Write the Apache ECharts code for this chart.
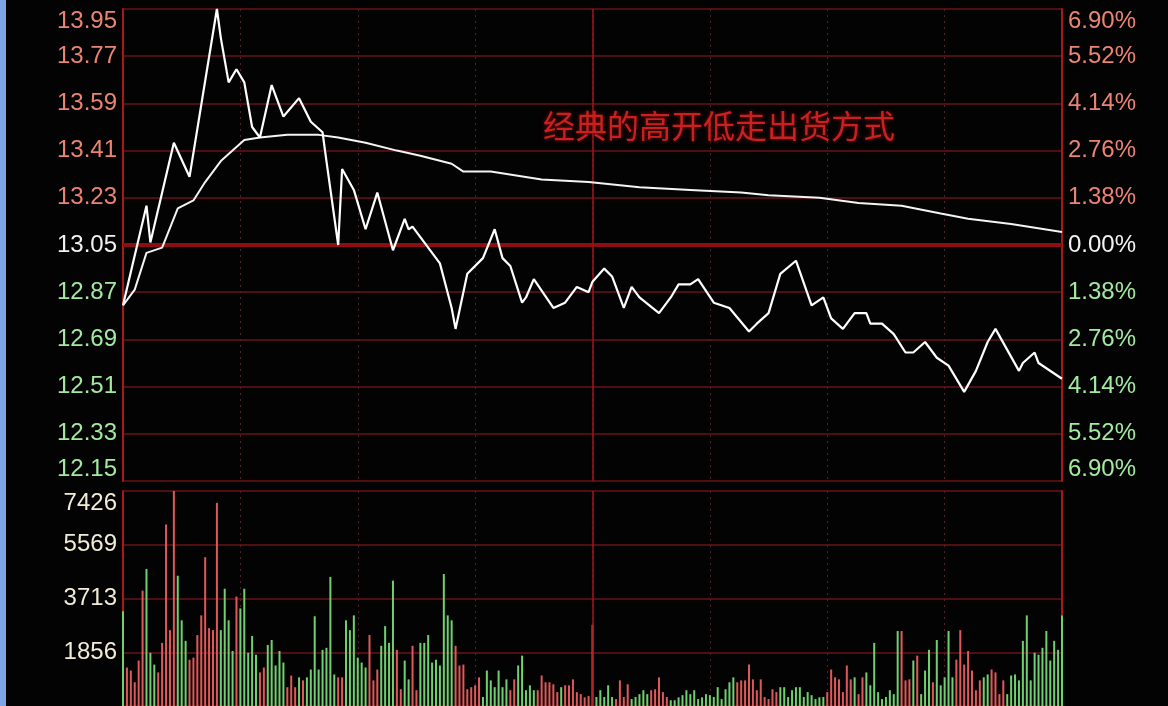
<!DOCTYPE html>
<html><head><meta charset="utf-8">
<script src="https://cdn.jsdelivr.net/npm/echarts/dist/echarts.min.js"></script>
<style>
html,body{margin:0;padding:0;background:#000;}
#strip{position:absolute;left:0;top:0;width:6px;height:706px;background:#7fa6e4;z-index:2}
#c{width:1168px;height:706px;}
</style></head>
<body><div id="strip"></div><div id="c"></div>
<script>
// ---- data ----
const chartTitle = '经典的高开低走出货方式';
const preClose = 13.05;
const priceMin = 12.15, priceMax = 13.95;
const pctMax = 6.90, pctStep = 1.38;
// tick labels, bottom to top
const priceTicks = ['12.15','12.33','12.51','12.69','12.87','13.05','13.23','13.41','13.59','13.77','13.95'];
const pctTicks = ['6.90%','5.52%','4.14%','2.76%','1.38%','0.00%','1.38%','2.76%','4.14%','5.52%','6.90%'];
const volTicks = ['', '1856', '3713', '5569', '7426'];
const volMax = 7426;
// price line vertices: minute index (0..240) and price
const priceT = [0,6,7,13,17,24,25,27,29,31,33,35,38,41,45,48,51,52,55,56,59,62,65,69,72,73,74,77,81,84,85,88,92,95,97,99,102,103,105,110,113,116,119,120,123,125,128,130,132,137,140,142,145,147,151,155,160,162,165,168,172,176,179,181,184,187,190,191,194,197,200,202,205,208,211,215,218,221,223,226,229,230,233,234,238,240];
const priceV = [12.82,13.20,13.06,13.44,13.31,13.95,13.84,13.67,13.72,13.67,13.50,13.46,13.66,13.54,13.61,13.52,13.48,13.37,13.05,13.34,13.26,13.11,13.25,13.03,13.15,13.11,13.12,13.06,12.98,12.81,12.73,12.94,13.00,13.11,13.00,12.97,12.83,12.85,12.92,12.81,12.83,12.89,12.87,12.91,12.96,12.93,12.81,12.89,12.85,12.79,12.85,12.90,12.90,12.92,12.83,12.81,12.72,12.75,12.79,12.94,12.99,12.82,12.85,12.77,12.73,12.79,12.79,12.75,12.75,12.71,12.64,12.64,12.68,12.62,12.59,12.49,12.57,12.68,12.73,12.65,12.57,12.60,12.64,12.60,12.56,12.54];
// average price line
const avgT = [0,3,6,10,14,18,21,25,31,35,42,50,55,62,70,76,84,87,94,107,119,132,145,158,165,178,188,199,209,216,227,240];
const avgV = [12.82,12.88,13.02,13.04,13.19,13.22,13.29,13.37,13.45,13.46,13.47,13.47,13.46,13.44,13.41,13.39,13.36,13.33,13.33,13.30,13.29,13.27,13.26,13.25,13.24,13.23,13.21,13.20,13.17,13.15,13.13,13.10];
// per-minute volume (241 bars) and direction (r = up, g = down)
const volumes = [
3270,1330,1225,820,1570,3985,4735,1840,1430,1160,2180,6270,2620,7426,4500,2960,2250,1600,1670,2450,
3130,5140,2690,2620,7016,2620,4050,2960,1900,3780,3370,4050,1840,2420,1770,1160,1330,2110,2280,1400,
1900,1500,650,1050,650,
990,885,990,1260,3100,1260,1940,2010,4460,1090,990,990,2960,2620,3130,1670,1500,1330,2450,885,
1260,2080,2760,2180,4330,1940,580,1570,920,2080,545,2180,2180,2450,1500,1600,1400,4560,3130,2960,
2080,1400,1430,580,650,715,990,310,1225,885,650,1225,650,920,545,920,1400,1740,545,715,
545,545,1055,820,820,750,480,650,715,715,920,480,410,300,350,
2800,310,545,310,715,310,240,885,310,750,240,310,410,545,410,
545,580,990,480,310,200,200,300,375,545,410,545,240,300,410,375,310,650,240,580,
820,990,820,885,885,1430,920,545,920,310,240,580,480,650,650,310,545,650,650,310,
480,375,240,300,310,480,1260,990,920,480,1400,920,990,410,990,1160,715,2180,480,240,
310,545,410,2590,
2590,885,920,1570,1740,410,1225,1940,820,2280,715,990,2590,990,1600,2620,1430,1900,1225,545,
885,990,1090,1260,1160,410,885,410,1055,1090,885,2250,3130,885,1840,1770,2010,2590,1570,2250,
1940,3130];
const volDir = ('grrrrrgggrrrrrgggrrrrrrrrggggrggggg' + 'rrgggg' + 'grr' + 'r' +
 'grggggggggrrggggggrrrgggg' + 'rrggrrgggggggggrrrrrrrgggggggrrgggggrrrrrrgrrrr' +
 'r' + 'rrrgggggrrrrggg' +
 'ggrrrrrgggggggggggggggggrrrrrrrrrrrggggggggggggrrrrrrrgrrggggg' +
 'ggggrrrgrgggrgggggrrrrrrrggrrrrggggggggg').split('');

// ---- chart ----
const RED_LBL = '#ec8474', GRN_LBL = '#a3ea9f', WHT = '#f2f2f2';
const GRID_LINE = '#6a1416', BORDER = '#a8181a';
const FONT = 'Liberation Sans, Arial, sans-serif';
const pairs = (t, v) => t.map((x, i) => [x, v[i]]);
const pctIdx = v => Math.round((v + pctMax) / pctStep);
const sideColor = v => (Math.abs(v) < 1e-6 ? WHT : (v > 0 ? RED_LBL : GRN_LBL));

const chart = echarts.init(document.getElementById('c'), null, {renderer: 'canvas'});
chart.setOption({
  backgroundColor: '#030303',
  animation: false,
  title: {
    text: chartTitle, left: 538, top: 105,
    textStyle: {color: '#cc2020', fontSize: 32, fontWeight: 'normal',
      fontFamily: 'Noto Sans CJK SC', textShadowColor: 'rgba(200,20,20,0.6)', textShadowBlur: 4}
  },
  grid: [
    {left: 123, right: 106, top: 9, height: 472},
    {left: 123, right: 106, top: 491, height: 218}
  ],
  xAxis: [0, 1].map(g => ({
    type: 'value', gridIndex: g, min: 0, max: 240, interval: 30,
    axisLabel: {show: false}, axisTick: {show: false}, axisLine: {show: false},
    splitLine: {show: true, lineStyle: {color: '#552022', type: [2, 4], width: 1}}
  })),
  yAxis: [
    { // hidden price scale used by the lines
      type: 'value', gridIndex: 0, min: priceMin, max: priceMax, show: false
    },
    { // left labels: price at each percent step
      type: 'value', gridIndex: 0, position: 'left', min: -pctMax, max: pctMax, interval: pctStep,
      axisLine: {show: true, lineStyle: {color: BORDER, width: 2}}, axisTick: {show: false},
      splitLine: {show: false},
      axisLabel: {
        fontSize: 24, fontFamily: FONT, margin: 6,
        verticalAlignMaxLabel: 'top', verticalAlignMinLabel: 'bottom',
        formatter: v => priceTicks[pctIdx(v)], color: sideColor
      }
    },
    { // right percent axis
      type: 'value', gridIndex: 0, position: 'right', min: -pctMax, max: pctMax, interval: pctStep,
      axisLine: {show: true, lineStyle: {color: BORDER, width: 2}}, axisTick: {show: false},
      splitLine: {show: true, lineStyle: {color: GRID_LINE, width: 1.5}},
      axisLabel: {
        fontSize: 24, fontFamily: FONT, margin: 6,
        verticalAlignMaxLabel: 'top', verticalAlignMinLabel: 'bottom',
        formatter: v => pctTicks[pctIdx(v)], color: sideColor
      }
    },
    { // volume axis
      type: 'value', gridIndex: 1, position: 'left', min: 0, max: volMax, interval: volMax / 4,
      axisLine: {show: true, lineStyle: {color: BORDER, width: 2}}, axisTick: {show: false},
      splitLine: {show: true, lineStyle: {color: GRID_LINE, width: 1.5}},
      axisLabel: {
        fontSize: 24, fontFamily: FONT, margin: 6, color: '#f0ecd6',
        verticalAlignMaxLabel: 'top',
        formatter: v => volTicks[Math.round(v / (volMax / 4))]
      }
    },
    { // right border for volume panel
      type: 'value', gridIndex: 1, position: 'right', min: 0, max: 1,
      axisLine: {show: true, lineStyle: {color: BORDER, width: 2}}, axisTick: {show: false},
      splitLine: {show: false}, axisLabel: {show: false}
    }
  ],
  series: [
    {
      type: 'line', xAxisIndex: 0, yAxisIndex: 0, data: pairs(avgT, avgV),
      symbol: 'none', lineStyle: {color: '#f4f4f4', width: 2}, silent: true, z: 3
    },
    {
      type: 'line', xAxisIndex: 0, yAxisIndex: 0, data: pairs(priceT, priceV),
      symbol: 'none', lineStyle: {color: '#ffffff', width: 2.2}, silent: true, z: 4,
      markLine: {
        silent: true, symbol: 'none', label: {show: false}, z: 2,
        data: [
          {yAxis: preClose, lineStyle: {color: '#8e0e10', width: 4, type: 'solid'}},
          {xAxis: 120, lineStyle: {color: '#a01416', width: 1.5, type: 'solid'}}
        ]
      }
    },
    {
      type: 'bar', xAxisIndex: 1, yAxisIndex: 3, barWidth: 2,
      data: volumes.map((v, i) => [i, v]), silent: true,
      itemStyle: {color: p => (volDir[p.dataIndex] === 'r' ? '#e0585a' : '#6fd06f')},
      markLine: {
        silent: true, symbol: 'none', label: {show: false},
        data: [{xAxis: 120, lineStyle: {color: '#a01416', width: 1.5, type: 'solid'}}]
      }
    }
  ]
});
</script>
</body></html>
